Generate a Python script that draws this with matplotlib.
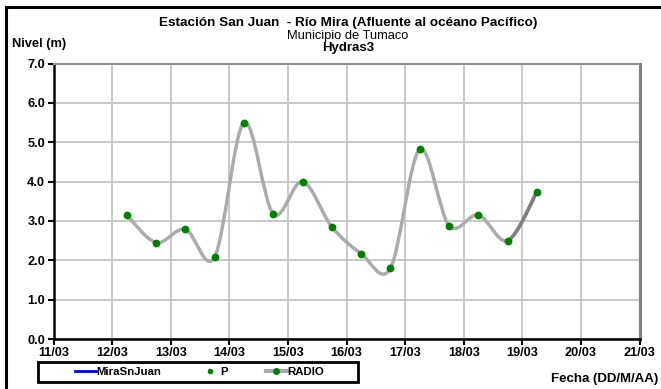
import datetime as dt

import matplotlib
matplotlib.use("Agg")
import matplotlib.pyplot as plt
import matplotlib.dates as mdates
from matplotlib.path import Path
from matplotlib.patches import PathPatch, Rectangle
from matplotlib.lines import Line2D

plt.rcParams['font.family'] = ['Liberation Sans', 'DejaVu Sans']

# data (level in m, every 12 h)
start_time = dt.datetime(2019, 3, 12, 6, 0)
step_hours = 12
radio_levels = [3.15, 2.45, 2.79, 2.08, 5.50, 3.18, 4.00, 2.85,
                2.17, 1.80, 4.82, 2.88, 3.15, 2.50, 3.74]
radio_times = [start_time + dt.timedelta(hours=step_hours * i)
               for i in range(len(radio_levels))]

x_start = dt.datetime(2019, 3, 11)
x_end = dt.datetime(2019, 3, 21)
y_ticks = [0.0, 1.0, 2.0, 3.0, 4.0, 5.0, 6.0, 7.0]

title_main = "Estación San Juan  - Río Mira (Afluente al océano Pacífico)"
title_sub = "Municipio de Tumaco"
title_station = "Hydras3"
legend_labels = ["MiraSnJuan", "P", "RADIO"]

W, H = 661, 389
fig = plt.figure(figsize=(W / 100, H / 100), dpi=100)

# outer frame (right/bottom edges fall outside the picture)
fig.patches.append(Rectangle((6 / W, -0.1), 1.2, 1 - 7.5 / H + 0.1,
                             transform=fig.transFigure, fill=False,
                             edgecolor='black', linewidth=2.2, zorder=0))

left, right, top, bottom = 53.5, 639.5, 63.5, 339
ax = fig.add_axes([left / W, 1 - bottom / H, (right - left) / W, (bottom - top) / H])


def smooth_path(xs, ys):
    """Excel-style smoothed line as cubic bezier segments."""
    n = len(xs)
    verts = [(xs[0], ys[0])]
    codes = [Path.MOVETO]
    for i in range(n - 1):
        i0 = max(i - 1, 0)
        i3 = min(i + 2, n - 1)
        c1 = (xs[i] + (xs[i + 1] - xs[i0]) / 6, ys[i] + (ys[i + 1] - ys[i0]) / 6)
        c2 = (xs[i + 1] - (xs[i3] - xs[i]) / 6, ys[i + 1] - (ys[i3] - ys[i]) / 6)
        verts += [c1, c2, (xs[i + 1], ys[i + 1])]
        codes += [Path.CURVE4] * 3
    return verts, codes


xnum = mdates.date2num(radio_times)
verts, codes = smooth_path(list(xnum), radio_levels)
ax.add_patch(PathPatch(Path(verts, codes), facecolor='none', edgecolor='#ABABAB',
                       linewidth=2.5, capstyle='round', zorder=3))
# last segment drawn darker, as in the reference
ax.add_patch(PathPatch(Path(verts[-4:], [Path.MOVETO] + [Path.CURVE4] * 3),
                       facecolor='none', edgecolor='#7F7F7F', linewidth=2.5,
                       capstyle='round', zorder=3))
ax.plot(radio_times, radio_levels, linestyle='none', marker='o', markersize=4.6,
        color='#008000', zorder=4)

ax.set_xlim(x_start, x_end)
ax.set_ylim(0, 7)
ax.xaxis.set_major_locator(mdates.DayLocator())
ax.xaxis.set_major_formatter(mdates.DateFormatter('%d/%m'))
ax.set_yticks(y_ticks)
ax.set_yticklabels([f"{v:.1f}" for v in y_ticks])

ax.grid(True, color='#C0C0C0', linewidth=1.2)
ax.set_axisbelow(True)
for lab in ax.get_xticklabels() + ax.get_yticklabels():
    lab.set_fontweight('bold')
    lab.set_fontsize(9.2)
ax.tick_params(axis='both', direction='out', length=4, width=1.5, color='black', pad=2)
ax.spines['left'].set_linewidth(1.8)
ax.spines['bottom'].set_linewidth(1.8)
ax.spines['top'].set_color('#909090')
ax.spines['top'].set_linewidth(1.5)
ax.spines['right'].set_color('#808080')
ax.spines['right'].set_linewidth(2.2)

# titles
fig.text(348 / W, 1 - 23 / H, title_main, ha='center', va='center',
         fontsize=9.7, fontweight='bold')
fig.text(348 / W, 1 - 36.5 / H, title_sub, ha='center', va='center', fontsize=9.3)
fig.text(348 / W, 1 - 48 / H, title_station, ha='center', va='center',
         fontsize=9.5, fontweight='bold')
fig.text(12 / W, 1 - 44 / H, "Nivel (m)", ha='left', va='center',
         fontsize=9.3, fontweight='bold')
fig.text(658 / W, 1 - 379 / H, "Fecha (DD/M/AA)", ha='right', va='center',
         fontsize=9.5, fontweight='bold')

# legend box drawn separately so it can be wider than its entries
fig.patches.append(Rectangle((38 / W, 1 - 382 / H), 320 / W, 20 / H,
                             transform=fig.transFigure, fill=False,
                             edgecolor='black', linewidth=2, zorder=5))
handles = [
    Line2D([], [], color='#0000FF', linewidth=2),
    Line2D([], [], linestyle='none', marker='o', markersize=3, color='#008000'),
    Line2D([], [], color='#ABABAB', linewidth=3, marker='o', markersize=4,
           markerfacecolor='#008000', markeredgecolor='#008000'),
]
leg = fig.legend(handles, legend_labels, loc='center left', ncol=3,
                 bbox_to_anchor=(75 / W, 1 - 372 / H), frameon=False,
                 prop={'weight': 'bold', 'size': 8.2},
                 handlelength=1.85, handletextpad=0.05, columnspacing=3.3,
                 borderpad=0, borderaxespad=0)

fig.savefig("out.png", dpi=100)
